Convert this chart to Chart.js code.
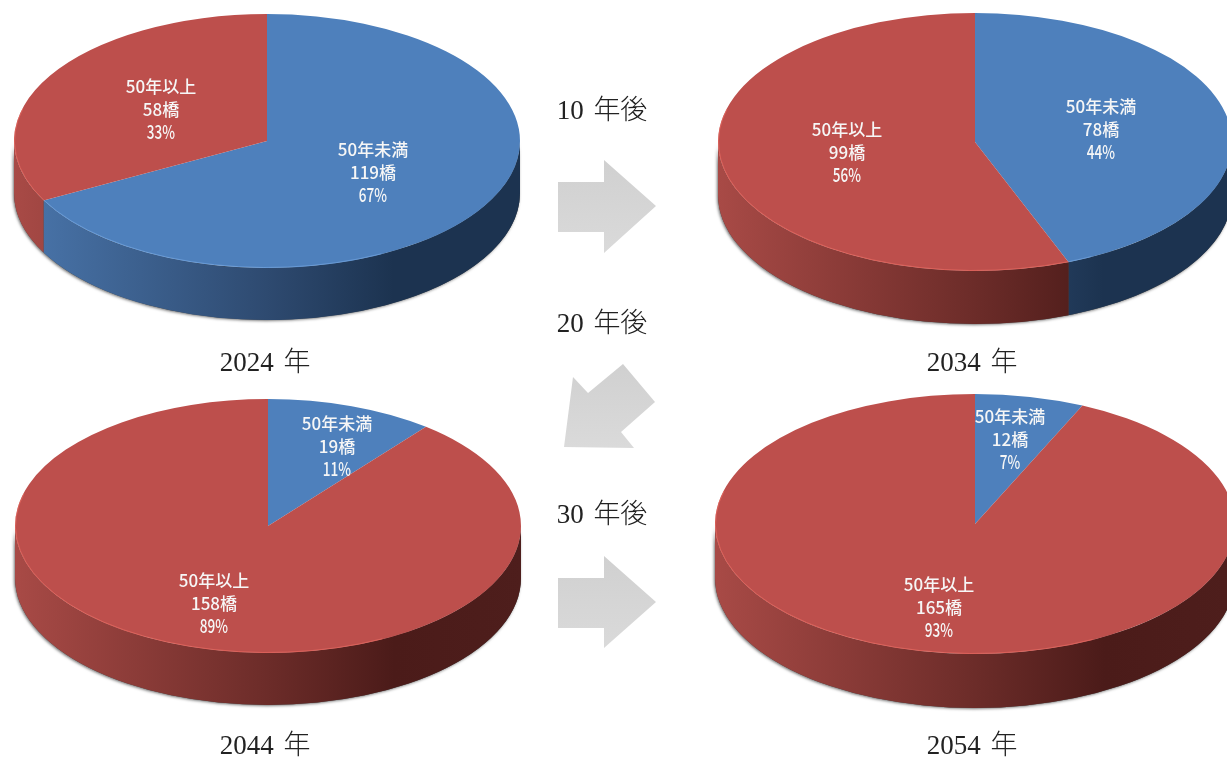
<!DOCTYPE html>
<html lang="ja">
<head>
<meta charset="utf-8">
<title>橋梁の経過年数</title>
<script src="https://cdn.jsdelivr.net/npm/chart.js@4"></script>
<style>
  html, body { margin: 0; padding: 0; background: #fff; }
  body { position: relative; width: 1227px; height: 758px; overflow: hidden; }
  canvas { position: absolute; }
  .cap {
    position: absolute; transform: translate(-50%, -50%); white-space: nowrap; color: #222;
    font: 300 27px "Liberation Serif", "Noto Sans CJK JP", serif; word-spacing: 3px; z-index: 5;
  }
  svg { position: absolute; left: 0; top: 0; z-index: 4; }
</style>
</head>
<body>
<svg width="1227" height="758">
  <defs>
    <linearGradient id="arrowFill" x1="0" y1="0" x2="0" y2="1">
      <stop offset="0" stop-color="#d0d0d0"/>
      <stop offset="1" stop-color="#dadada"/>
    </linearGradient>
  </defs>
  <polygon fill="url(#arrowFill)" points="558,182 604,182 604,160 656,206 604,253 604,232 558,232"/>
  <polygon fill="url(#arrowFill)" points="623,364 655,402 621,432 634,448 564,447 573,377 588,393"/>
  <polygon fill="url(#arrowFill)" points="558,578 604,578 604,556 656,602 604,648 604,628 558,628"/>
</svg>
<script>
// data
const categories = ['50年未満', '50年以上'];
const years = ['2024 年', '2034 年', '2044 年', '2054 年'];
const bridges2024 = [119, 58];
const bridges2034 = [78, 99];
const bridges2044 = [19, 158];
const bridges2054 = [12, 165];
const percent2024 = [67, 33];
const percent2034 = [44, 56];
const percent2044 = [11, 89];
const percent2054 = [7, 93];
const laterLabels = ['10 年後', '20 年後', '30 年後'];

const topColors = ['#4e80bc', '#bd4f4c'];
const rimColors = ['rgba(120,170,230,0.6)', 'rgba(240,110,100,0.6)'];
const wallStops = [
  ['#4a76ac', '#2e4a70', '#1c3350', '#1c3350'],
  ['#a84a46', '#6c2c29', '#4b1b19', '#4e1e1c']
];

// layout of each pie: centre, radii, wall depth, label offsets from the centre
const pies = [
  { values: bridges2024, pct: percent2024, cx: 267, cy: 141, rx: 253, ry: 127, depth: 52, off: [[106, 32], [-106, -31]] },
  { values: bridges2034, pct: percent2034, cx: 975, cy: 142, rx: 257, ry: 129, depth: 53, off: [[126, -12], [-128, 11]] },
  { values: bridges2044, pct: percent2044, cx: 268, cy: 526, rx: 253, ry: 127, depth: 52, off: [[69, -79], [-54, 78]] },
  { values: bridges2054, pct: percent2054, cx: 975, cy: 524, rx: 260, ry: 130, depth: 54, off: [[35, -84], [-36, 84]] }
];
const PAD = 6;

// flattens the pie to an ellipse and adds the wall, rim and labels
const tiltPlugin = {
  id: 'tilt',
  beforeDatasetsDraw(chart, args, opts) {
    const { ctx } = chart;
    const arcs = chart.getDatasetMeta(0).data;
    const { x, y, outerRadius: r } = arcs[0];
    const ry = opts.ry, d = opts.depth;

    // soft shadow under the wall
    ctx.save();
    ctx.shadowColor = 'rgba(0,0,0,0.55)';
    ctx.shadowBlur = 3;
    ctx.shadowOffsetX = -1;
    ctx.shadowOffsetY = 1;
    ctx.fillStyle = '#444';
    ctx.beginPath();
    ctx.ellipse(x, y, r, ry, 0, 0, Math.PI);
    ctx.ellipse(x, y + d, r, ry, 0, Math.PI, 0, true);
    ctx.closePath();
    ctx.fill();
    ctx.restore();

    arcs.forEach((arc, i) => {
      const a = Math.max(arc.startAngle, 0);
      const b = Math.min(arc.endAngle, Math.PI);
      if (b <= a) return;
      const g = ctx.createLinearGradient(x - r, 0, x + r, 0);
      wallStops[i].forEach((c, k) => g.addColorStop([0, 0.5, 0.75, 1][k], c));
      ctx.fillStyle = g;
      ctx.beginPath();
      ctx.ellipse(x, y, r, ry, 0, a, b);
      ctx.ellipse(x, y + d, r, ry, 0, b, a, true);
      ctx.closePath();
      ctx.fill();
    });

    ctx.save();
    ctx.translate(0, y);
    ctx.scale(1, ry / r);
    ctx.translate(0, -y);
  },
  afterDatasetsDraw(chart, args, opts) {
    const { ctx } = chart;
    ctx.restore();
    const arcs = chart.getDatasetMeta(0).data;
    const { x, y, outerRadius: r } = arcs[0];

    // thin light rim on the near edge
    ctx.lineWidth = 1;
    arcs.forEach((arc, i) => {
      const a = Math.max(arc.startAngle, 1.1);
      const b = Math.min(arc.endAngle, 3.4);
      if (b <= a) return;
      ctx.strokeStyle = rimColors[i];
      ctx.beginPath();
      ctx.ellipse(x, y, r - 0.5, opts.ry - 0.5, 0, a, b);
      ctx.stroke();
    });

    ctx.fillStyle = '#f6f6f6';
    ctx.font = '500 17px "Noto Sans CJK JP", sans-serif';
    ctx.textAlign = 'center';
    ctx.textBaseline = 'middle';
    arcs.forEach((arc, i) => {
      const lx = x + opts.off[i][0], ly = y + opts.off[i][1];
      ctx.fillText(categories[i], lx, ly - 23);
      ctx.fillText(opts.values[i] + '橋', lx, ly);
      // the percent line is set narrower and taller in the original
      ctx.save();
      ctx.translate(lx, ly + 22);
      ctx.scale(0.8, 1.12);
      ctx.fillText(opts.pct[i] + '%', 0, 0);
      ctx.restore();
    });
  }
};

pies.forEach((p, n) => {
  const cv = document.createElement('canvas');
  const side = 2 * p.rx + 2 * PAD;
  cv.width = side;
  cv.height = side;
  cv.style.left = (p.cx - p.rx - PAD) + 'px';
  cv.style.top = (p.cy - p.rx - PAD) + 'px';
  cv.style.width = side + 'px';
  cv.style.height = side + 'px';
  document.body.appendChild(cv);
  new Chart(cv.getContext('2d'), {
    type: 'pie',
    data: {
      labels: categories,
      datasets: [{ data: p.values, backgroundColor: topColors, borderWidth: 0 }]
    },
    options: {
      responsive: false,
      animation: false,
      devicePixelRatio: 1,
      events: [],
      layout: { padding: PAD },
      plugins: {
        legend: { display: false },
        tooltip: { enabled: false },
        tilt: { ry: p.ry, depth: p.depth, values: p.values, pct: p.pct, off: p.off }
      }
    },
    plugins: [tiltPlugin]
  });
});

function caption(text, x, y) {
  const el = document.createElement('div');
  el.className = 'cap';
  el.textContent = text;
  el.style.left = x + 'px';
  el.style.top = y + 'px';
  document.body.appendChild(el);
}
caption(years[0], 265, 359);
caption(years[1], 972, 359);
caption(years[2], 265, 742);
caption(years[3], 972, 742);
caption(laterLabels[0], 602, 107);
caption(laterLabels[1], 602, 320);
caption(laterLabels[2], 602, 511);
</script>
</body>
</html>
